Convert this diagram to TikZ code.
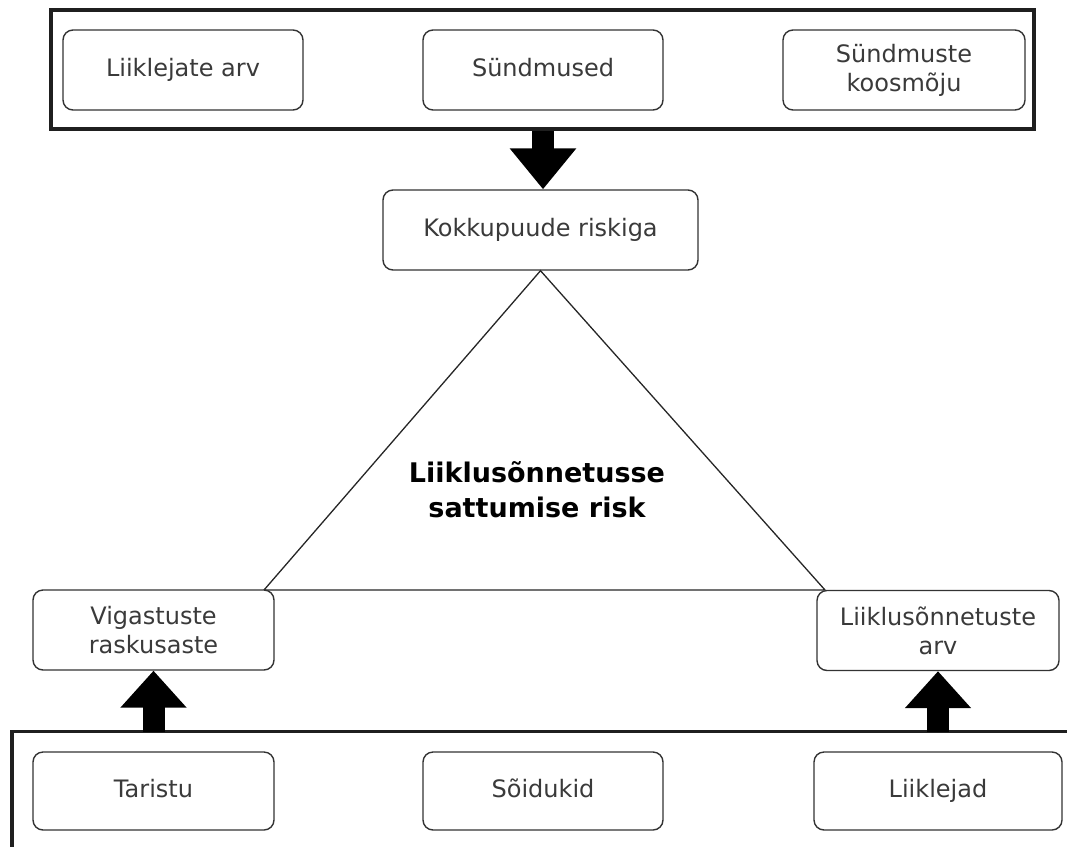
\documentclass[tikz,border=0pt]{standalone}
\usepackage{fontspec}
\setmainfont{DejaVu Sans}
\usetikzlibrary{arrows.meta,calc}
\definecolor{ink}{HTML}{333333}
\definecolor{txt}{HTML}{3A3A3A}
\tikzset{
  card/.style={draw=ink, line width=1.4pt, rounded corners=10pt, fill=white,
    text=txt, font=\fontsize{24}{29}\selectfont, align=center,
    minimum width=240pt, minimum height=80pt, inner sep=0pt},
  oneline/.style={text height=17.5pt, text depth=4.5pt},
  frame/.style={draw=black!88, line width=3.5pt},
  bigarrow/.style={line width=22pt, -{Triangle[width=64pt,length=#1]}},
  bigarrow/.default=37pt,
  tri/.style={draw=black!85, line width=1.3pt},
}
\begin{document}
\begin{tikzpicture}[x=1pt,y=-1pt]
\useasboundingbox (0,0) rectangle (1067,846);
\clip (0,0) rectangle (1067,846);

% upper group: factors of exposure
\node[frame, minimum width=983pt, minimum height=119pt, inner sep=0pt] (topgrp) at (542.5,69.5) {};
\node[card, oneline] (arv) at (183,70) {Liiklejate arv};
\node[card, oneline] (sund) at (543,70) {Sündmused};
\node[card, minimum width=242pt] (koos) at (904,70) {Sündmuste\\koosmõju};

% exposure box
\node[card, oneline, minimum width=315pt] (kok) at (540.5,230) {Kokkupuude riskiga};

% risk triangle
\coordinate (tl) at (264,590);
\coordinate (tr) at (825,590);
\draw[tri] (tl) -- (kok.south) -- (tr) -- cycle;
\node[font=\bfseries\fontsize{27}{35}\selectfont, align=center] (risk) at (537,490)
  {Liiklusõnnetusse\\sattumise risk};

% outcome boxes
\node[card, minimum width=241pt] (vig) at (153.5,630) {Vigastuste\\raskusaste};
\node[card, minimum width=242pt] (lon) at (938,630.5) {Liiklusõnnetuste\\arv};

% lower group: system components
\coordinate (bf) at (12,731.5);
\draw[frame] (12,900) -- (bf) -- (1100,731.5);
\node[card, oneline, minimum width=241pt, minimum height=78pt] (tar) at (153.5,791) {Taristu};
\node[card, oneline, minimum height=78pt] (soi) at (543,791) {Sõidukid};
\node[card, oneline, minimum width=248pt, minimum height=78pt] (lii) at (938,791) {Liiklejad};

% block arrows
\draw[bigarrow=41pt] (sund.south |- topgrp.south) -- (sund.south |- kok.north);
\draw[bigarrow] (vig.south |- bf) -- (vig.south);
\draw[bigarrow] (lon.south |- bf) -- (lon.south);
\end{tikzpicture}
\end{document}
